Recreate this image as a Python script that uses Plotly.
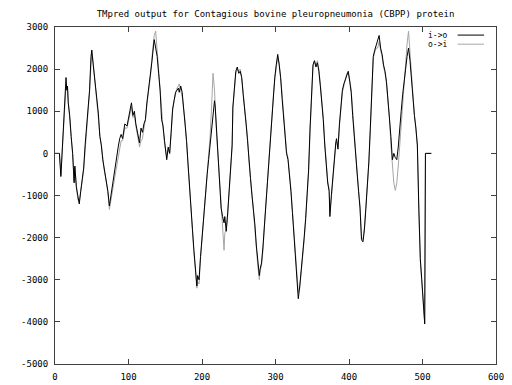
import plotly.graph_objects as go

positions = [0, 6, 8, 10, 12, 14, 15, 16, 17, 18, 20, 22, 24, 26, 27, 29, 31, 33, 35, 37, 39, 41, 43, 45, 47, 49, 50,
             52, 54, 56, 59, 61, 63, 65, 67, 70, 72, 74, 76, 79, 81, 83, 86, 88, 90, 92, 95, 98, 101, 103, 104, 106,
             108, 110, 112, 115, 117, 119, 121, 123, 125, 127, 130, 132, 134, 135, 137, 139, 141, 143, 145, 147,
             149, 151, 152, 154, 156, 158, 160, 162, 164, 166, 168, 169, 171, 173, 175, 177, 179, 181, 183, 185,
             187, 189, 191, 193, 194, 196, 198, 200, 202, 203, 205, 207, 209, 211, 213, 215, 217, 218, 220, 222,
             224, 226, 228, 230, 231, 233, 235, 237, 239, 241, 242, 244, 246, 248, 250, 252, 254, 256, 258, 260,
             262, 264, 266, 268, 270, 272, 274, 276, 278, 279, 281, 283, 285, 287, 289, 291, 293, 295, 297, 299,
             301, 303, 305, 307, 309, 311, 313, 315, 317, 319, 321, 323, 325, 327, 329, 331, 333, 335, 337, 339,
             341, 343, 345, 347, 349, 351, 353, 355, 357, 359, 361, 363, 365, 367, 369, 371, 373, 374, 376, 378,
             380, 382, 383, 385, 387, 389, 391, 393, 395, 397, 399, 401, 403, 405, 407, 409, 411, 413, 415, 417,
             419, 421, 423, 425, 427, 429, 431, 433, 435, 437, 439, 441, 443, 445, 447, 449, 451, 453, 455, 457,
             459, 461, 463, 465, 467, 469, 471, 473, 475, 477, 479, 481, 483, 485, 487, 489, 491, 492, 493, 495,
             497, 499, 501, 503, 504, 512]

i_to_o = [0, 0, -550, 100, 900, 1500, 1800, 1500, 1600, 1200, 900, 400, 0, -700, -300, -800, -1000, -1200, -900,
          -600, -350, 200, 700, 1000, 1500, 2300, 2450,
          2100, 1750, 1400, 950, 400, 200, -150, -350, -650, -900, -1250, -1000, -700, -450, -250, 150, 350, 450,
          350, 700, 650, 950, 1100, 1200, 900,
          1000, 700, 500, 250, 600, 500, 700, 800, 1200, 1450, 1900, 2200, 2550, 2700, 2500, 2300, 1900, 1500,
          800, 650,
          300, 0, -150, 150, 0, 500, 1050, 1250, 1450, 1500, 1550, 1450, 1600, 1450, 1100, 800, 300, -250, -700,
          -1200,
          -1800, -2300, -2700, -3150, -2900, -3000, -2450, -2000, -1550, -1200, -800, -500, -150, 200, 600, 1000,
          1250, 1100, 500, 0,
          -550, -1300, -1500, -1650, -1500, -1850, -1400, -900, -400, 200, 1100, 1600, 1950, 2050, 1900, 1950,
          1800, 1400, 1100, 700,
          300, -250, -600, -1000, -1300, -1700, -2200, -2600, -2900, -2750, -2600, -2200, -1600, -1100, -700,
          -200, 300, 900, 1400, 1800,
          2100, 2350, 2100, 1800, 1300, 900, 500, 0, -150, -500, -900, -1400, -1900, -2400, -3000, -3450, -3150,
          -2800, -2450, -2000,
          -1550, -1000, -400, 600, 1500, 2100, 2200, 2050, 2150, 1950, 1600, 1200, 800, 200, -350, -700, -900,
          -1500, -1000, -500,
          0, 250, 350, 100, 700, 1100, 1500, 1650, 1750, 1800, 1950, 1700, 1450, 900, 400, -150, -500, -900,
          -1300, -2050,
          -2100, -1800, -1300, -800, -200, 600, 1500, 2300, 2450, 2550, 2650, 2800, 2500, 2350, 2100, 1950, 1700,
          1300, 900, 400,
          -150, 0, -100, -150, 150, 500, 1000, 1400, 1800, 2000, 2300, 2500, 2200, 1700, 1300, 900, 600, 450, 200,
          -1300,
          -2500, -3000, -3600, -4050, 0, 0]

o_to_i = [0, 0, -500, 100, 850, 1400, 1600, 1550, 1550, 1250, 900, 400, 0, -650, -350, -800, -1100, -1150, -950,
          -650, -400, 150, 650, 1000, 1450, 2350, 2450,
          2150, 1750, 1400, 950, 450, 200, -150, -400, -700, -950, -1330, -1100, -800, -600, -400, -100, 100, 300,
          300, 600, 600, 900, 1050, 1100, 850,
          900, 650, 400, 150, 300, 350, 600, 800, 1150, 1400, 1850, 2300, 2650, 2800, 2900, 2400, 1950, 1500,
          850, 600,
          250, -50, -100, 100, 0, 450, 1000, 1250, 1400, 1550, 1600, 1650, 1500, 1350, 1050, 750, 250, -300,
          -800, -1300,
          -1850, -2350, -2750, -3200, -3050, -3100, -2500, -2050, -1600, -1250, -850, -550, -100, 400, 1100,
          1900, 1500, 1000, 400, -100,
          -650, -1400, -1700, -2300, -1900, -1800, -1450, -950, -450, 150, 1050, 1550, 1900, 2000, 1950, 2000,
          1800, 1450, 1100, 750,
          350, -200, -550, -1000, -1350, -1800, -2350, -2700, -3000, -2800, -2650, -2300, -1700, -1150, -750,
          -250, 250, 850, 1350, 1750,
          2050, 2300, 2150, 1850, 1400, 950, 550, 50, -100, -450, -850, -1350, -1850, -2350, -2950, -3300, -3200,
          -2850, -2500, -2050,
          -1600, -1050, -450, 500, 1450, 2050, 2200, 2100, 2200, 2000, 1650, 1250, 850, 250, -300, -650, -850,
          -1400, -1050, -600,
          -100, 200, 300, 150, 650, 1050, 1450, 1600, 1750, 1900, 1900, 1750, 1500, 950, 450, -100, -450, -850,
          -1250, -2000,
          -2050, -1750, -1300, -850, -250, 550, 1450, 2250, 2400, 2500, 2500, 2650, 2450, 2300, 2050, 1900, 1650,
          1250, 850, 200,
          -400, -700, -880, -700, -300, 200, 700, 1300, 1750, 2050, 2600, 2900, 2400, 1750, 1300, 900, 600, 450,
          150, -1350,
          -2550, -3050, -3650, -4000, 0, 0]

x_ticks = [0, 100, 200, 300, 400, 500, 600]
y_ticks = [-5000, -4000, -3000, -2000, -1000, 0, 1000, 2000, 3000]
legend_labels = ["i->o", "o->i"]
title_text = "TMpred output for Contagious bovine pleuropneumonia (CBPP) protein"

FONT = "DejaVu Sans Mono"
BLACK = "#000000"
GRAY = "#a6a6a6"
FRAME = "#404040"

fig = go.Figure()
fig.add_trace(go.Scatter(x=positions, y=o_to_i, mode="lines", name=legend_labels[1],
                         line=dict(color=GRAY, width=1), showlegend=False))
fig.add_trace(go.Scatter(x=positions, y=i_to_o, mode="lines", name=legend_labels[0],
                         line=dict(color=BLACK, width=1), showlegend=False))

axis_common = dict(showgrid=False, zeroline=False, showline=True, linecolor=FRAME, linewidth=1,
                   mirror="allticks", ticks="inside", ticklen=5, tickcolor=FRAME, tickwidth=1,
                   automargin=False, ticklabelstandoff=4,
                   tickfont=dict(family=FONT, size=9, color="#000000"))
fig.update_xaxes(range=[0, 600], tickvals=x_ticks, ticktext=[str(v) for v in x_ticks], **axis_common)
fig.update_yaxes(range=[-5000, 3000], tickvals=y_ticks, ticktext=[str(v) for v in y_ticks], **axis_common)

# gnuplot-style key: label on the left, line sample on the right
for i, (lab, col) in enumerate(zip(legend_labels, [BLACK, GRAY])):
    ky = 0.976 - i * 0.027
    fig.add_annotation(x=0.894, y=ky, xref="paper", yref="paper", text=lab, showarrow=False,
                       xanchor="right", yanchor="middle", font=dict(family=FONT, size=8, color="#000000"))
    fig.add_shape(type="line", xref="paper", yref="paper", x0=0.913, x1=0.973, y0=ky, y1=ky,
                  line=dict(color=col, width=1))

# page body adds an 8px margin, so the figure is 8px smaller and margins are shifted
fig.update_layout(
    width=504, height=377,
    margin=dict(l=47, r=16, t=19, b=21),
    paper_bgcolor="white", plot_bgcolor="white",
    title=dict(text=title_text, x=0.5, xref="paper", y=1 - 6 / 377, yref="container",
               xanchor="center", yanchor="middle", font=dict(family=FONT, size=9, color="#000000")),
    showlegend=False,
)

fig.write_html("out.html")
